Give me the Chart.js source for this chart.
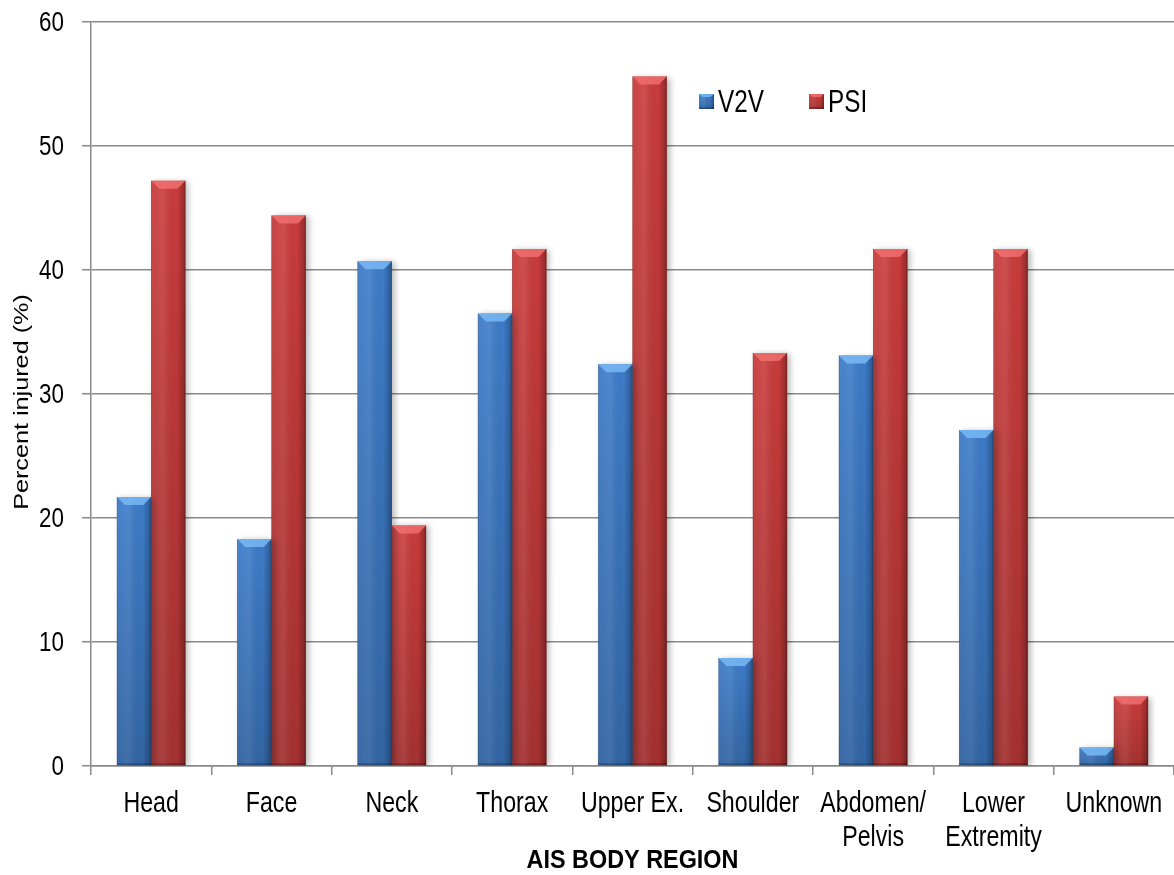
<!DOCTYPE html>
<html>
<head>
<meta charset="utf-8">
<script src="https://cdn.jsdelivr.net/npm/chart.js@4/dist/chart.umd.min.js"></script>
<style>
  html, body { margin: 0; padding: 0; background: #fff; }
  #wrap { width: 1174px; height: 875px; position: relative; }
</style>
</head>
<body>
<div id="wrap"><canvas id="c" width="1174" height="875"></canvas></div>
<script>
// Body regions (AIS) and percent injured per crash type
const regions = ['Head', 'Face', 'Neck', 'Thorax', 'Upper Ex.', 'Shoulder', ['Abdomen/', 'Pelvis'], ['Lower', 'Extremity'], 'Unknown'];
const v2v = [21.7, 18.3, 40.7, 36.5, 32.4, 8.7, 33.1, 27.1, 1.5];
const psi = [47.2, 44.4, 19.4, 41.7, 55.6, 33.3, 41.7, 41.7, 5.6];
const seriesNames = ['V2V', 'PSI'];
const yTicks = [0, 10, 20, 30, 40, 50, 60];
const xTitle = 'AIS BODY REGION';
const yTitle = 'Percent injured (%)';

const sans = "'Liberation Sans', Arial, sans-serif";

// Text in a tall, narrow face: Arial-like glyphs squeezed horizontally
function narrowText(ctx, text, x, y, opts) {
  ctx.save();
  ctx.font = (opts.weight || 'normal') + ' ' + opts.size + 'px ' + sans;
  ctx.fillStyle = opts.color || '#000';
  ctx.textAlign = opts.align || 'center';
  ctx.textBaseline = opts.baseline || 'alphabetic';
  ctx.translate(x, y);
  if (opts.rotate) ctx.rotate(opts.rotate);
  ctx.scale(opts.sx || 1, opts.sy || 1);
  ctx.fillText(text, 0, 0);
  ctx.restore();
}

// Soft drop shadow behind each bar
const barShadow = {
  id: 'barShadow',
  beforeDatasetsDraw(chart) {
    const ctx = chart.ctx;
    ctx.save();
    ctx.shadowColor = 'rgba(0,0,0,0.28)';
    ctx.shadowBlur = 6;
    ctx.shadowOffsetX = 3;
    ctx.shadowOffsetY = 1;
  },
  afterDatasetsDraw(chart) {
    chart.ctx.restore();
  }
};

// Shading and bevelled top drawn over each bar
function shadeBar(ctx, left, right, top, bottom, bevelColor, bevelH) {
  const w = right - left;
  const h = bottom - top;
  if (w <= 0 || h <= 0) return;
  let g = ctx.createLinearGradient(left, 0, right, 0);
  g.addColorStop(0, 'rgba(0,0,0,0.30)');
  g.addColorStop(0.05, 'rgba(255,255,255,0.05)');
  g.addColorStop(0.35, 'rgba(255,255,255,0.10)');
  g.addColorStop(0.75, 'rgba(0,0,0,0.0)');
  g.addColorStop(0.94, 'rgba(0,0,0,0.22)');
  g.addColorStop(1, 'rgba(0,0,0,0.45)');
  ctx.fillStyle = g;
  ctx.fillRect(left, top, w, h);
  let gv = ctx.createLinearGradient(0, top, 0, bottom);
  gv.addColorStop(0, 'rgba(0,0,0,0)');
  gv.addColorStop(1, 'rgba(0,0,0,0.18)');
  ctx.fillStyle = gv;
  ctx.fillRect(left, top, w, h);
  const bh = Math.min(bevelH, h);
  const inset = Math.min(8, w / 4);
  ctx.beginPath();
  ctx.moveTo(left, top);
  ctx.lineTo(right, top);
  ctx.lineTo(right - inset, top + bh);
  ctx.lineTo(left + inset, top + bh);
  ctx.closePath();
  ctx.fillStyle = bevelColor;
  ctx.fill();
  ctx.fillStyle = 'rgba(0,0,0,0.25)';
  ctx.fillRect(left, bottom - 2, w, 2);
}

const bevelColors = ['rgba(120,185,245,0.85)', 'rgba(240,110,110,0.85)'];
const baseColors = ['#3d7bc8', '#c93b3b'];

const barBevel = {
  id: 'barBevel',
  afterDatasetsDraw(chart) {
    const ctx = chart.ctx;
    ctx.save();
    chart.data.datasets.forEach((ds, di) => {
      const meta = chart.getDatasetMeta(di);
      meta.data.forEach(el => {
        const p = el.getProps(['x', 'y', 'base', 'width'], true);
        shadeBar(ctx, p.x - p.width / 2, p.x + p.width / 2, p.y, p.base, bevelColors[di], 8);
      });
    });
    ctx.restore();
  }
};

// Axis labels, titles and the legend inside the plot area
const axisText = {
  id: 'axisText',
  afterDraw(chart) {
    const ctx = chart.ctx;
    const a = chart.chartArea;
    const xs = chart.scales.x;
    const ys = chart.scales.y;

    chart.data.labels.forEach((lab, i) => {
      const lines = Array.isArray(lab) ? lab : [lab];
      const cx = xs.getPixelForValue(i);
      lines.forEach((ln, k) => {
        narrowText(ctx, ln, cx, xs.top + 46 + k * 34, { size: 29, sx: 0.8 });
      });
    });

    yTicks.forEach(v => {
      narrowText(ctx, String(v), a.left - 27, ys.getPixelForValue(v) + 1, { size: 28, sx: 0.8, align: 'right', baseline: 'middle' });
    });

    narrowText(ctx, xTitle, (a.left + a.right) / 2, xs.top + 102, { size: 26, sx: 0.9, weight: 'bold' });
    narrowText(ctx, yTitle, 28, (a.top + a.bottom) / 2 + 8, { size: 21, sx: 1.2, rotate: -Math.PI / 2 });

    // legend
    let x = a.left + 608;
    const y = a.top + 72;
    chart.data.datasets.forEach((ds, di) => {
      ctx.save();
      ctx.fillStyle = baseColors[di];
      ctx.fillRect(x, y, 15, 15);
      shadeBar(ctx, x, x + 15, y, y + 15, bevelColors[di], 3);
      ctx.restore();
      narrowText(ctx, ds.label, x + 19, y + 18, { size: 32, sx: 0.76, align: 'left' });
      x += 110;
    });
  }
};

new Chart(document.getElementById('c'), {
  type: 'bar',
  data: {
    labels: regions,
    datasets: [
      { label: seriesNames[0], data: v2v, backgroundColor: baseColors[0] },
      { label: seriesNames[1], data: psi, backgroundColor: baseColors[1] }
    ]
  },
  options: {
    responsive: false,
    animation: false,
    layout: { padding: { top: 22, right: 0, left: 0, bottom: 0 } },
    datasets: { bar: { categoryPercentage: 0.57, barPercentage: 1.0 } },
    plugins: { legend: { display: false }, tooltip: { enabled: false } },
    scales: {
      x: {
        grid: { display: true, offset: true, drawOnChartArea: false, drawTicks: true, tickLength: 9, color: '#8a8a8a', lineWidth: 1.5 },
        border: { display: true, color: '#8a8a8a', width: 1.5 },
        ticks: { color: 'rgba(0,0,0,0)', font: { family: sans, size: 20 }, maxRotation: 0, autoSkip: false },
        afterFit(scale) { scale.height = 109; }
      },
      y: {
        min: 0, max: 60,
        afterBuildTicks(scale) { scale.ticks = yTicks.map(v => ({ value: v })); },
        grid: { color: '#8a8a8a', lineWidth: 1.5, tickLength: 9 },
        border: { display: true, color: '#8a8a8a', width: 1.5 },
        ticks: { color: 'rgba(0,0,0,0)', font: { family: sans, size: 20 } },
        afterFit(scale) { scale.width = 91; }
      }
    }
  },
  plugins: [barShadow, barBevel, axisText]
});
</script>
</body>
</html>
